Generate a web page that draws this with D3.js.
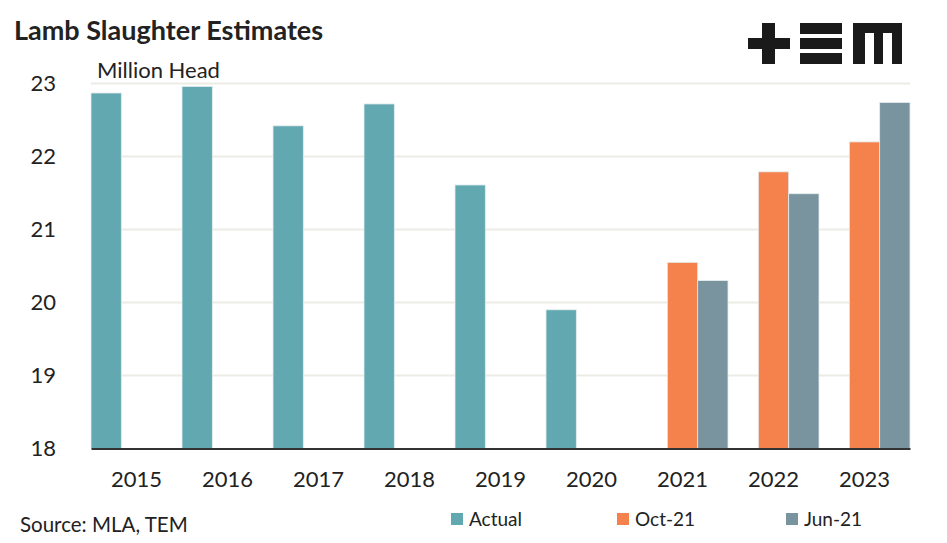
<!DOCTYPE html>
<html>
<head>
<meta charset="utf-8">
<script src="https://cdn.jsdelivr.net/npm/d3@7"></script>
<style>
  body { margin: 0; background: #fff; }
  text { font-family: Lato, "Noto Sans", sans-serif; fill: #222; }
</style>
</head>
<body>
<svg id="chart" width="947" height="543"></svg>
<script>
const years = ['2015', '2016', '2017', '2018', '2019', '2020', '2021', '2022', '2023'];
const seriesNames = ['Actual', 'Oct-21', 'Jun-21'];
const actual = [22.87, 22.96, 22.42, 22.72, 21.61, 19.9, null, null, null];
const oct21 = [null, null, null, null, null, null, 20.55, 21.79, 22.2];
const jun21 = [null, null, null, null, null, null, 20.3, 21.49, 22.74];
const yTicks = [18, 19, 20, 21, 22, 23];
const colors = ['#62a8b1', '#f5814d', '#7a949f'];

const svg = d3.select('#chart');
const margin = { left: 91, right: 37, top: 83.5, bottom: 94.5 };
const width = 947 - margin.left - margin.right;
const height = 543 - margin.top - margin.bottom;

const x = d3.scaleBand().domain(years).range([margin.left, margin.left + width]).padding(0);
const xs = d3.scaleBand().domain(seriesNames).range([0, x.bandwidth()]).padding(0);
const y = d3.scaleLinear().domain([18, 23]).range([margin.top + height, margin.top]);

// gridlines
svg.append('g')
    .selectAll('line')
    .data(yTicks.slice(1))
    .join('line')
    .attr('x1', margin.left).attr('x2', margin.left + width)
    .attr('y1', d => y(d)).attr('y2', d => y(d))
    .attr('stroke', '#ecece4').attr('stroke-width', 2);

// bars
const allSeries = [actual, oct21, jun21];
allSeries.forEach((vals, si) => {
    svg.append('g')
        .selectAll('rect')
        .data(years.map((yr, i) => ({ yr, v: vals[i] })).filter(d => d.v !== null))
        .join('rect')
        .attr('x', d => x(d.yr) + xs(seriesNames[si]))
        .attr('width', xs.bandwidth())
        .attr('y', d => y(d.v))
        .attr('height', d => y(18) - y(d.v))
        .attr('fill', colors[si])
        .attr('stroke', '#e4eef0').attr('stroke-width', 0.8);
});

// y axis labels
const yAxis = svg.append('g')
    .attr('transform', `translate(${margin.left - 35},0)`)
    .call(d3.axisLeft(y).tickValues(yTicks).tickFormat(d3.format('d')).tickSize(0).tickPadding(0));
yAxis.select('.domain').remove();
yAxis.selectAll('text').style('font-size', '22px').style('font-family', 'Lato, "Noto Sans", sans-serif').attr('fill', '#222');

// x axis
const xAxis = svg.append('g')
    .attr('transform', `translate(0,${y(18)})`)
    .call(d3.axisBottom(x).tickSize(0).tickPadding(23));
xAxis.select('.domain').attr('stroke', '#333').attr('stroke-width', 2);
xAxis.selectAll('text').style('font-size', '22px').style('font-family', 'Lato, "Noto Sans", sans-serif').attr('fill', '#222');

// titles
svg.append('text').attr('x', 14).attr('y', 40)
    .style('font-size', '27px').style('font-weight', 'bold')
    .text('Lamb Slaughter Estimates');
svg.append('text').attr('x', 97).attr('y', 78)
    .style('font-size', '22px')
    .text('Million Head');
svg.append('text').attr('x', 20).attr('y', 532)
    .style('font-size', '20.5px')
    .text('Source: MLA, TEM');

// legend
const legendX = [451, 617, 786];
seriesNames.forEach((name, i) => {
    const g = svg.append('g').attr('transform', `translate(${legendX[i]},513)`);
    g.append('rect').attr('width', 12).attr('height', 12).attr('fill', colors[i]);
    g.append('text').attr('x', 18).attr('y', 12.5).style('font-size', '19px').text(name);
});

// logo
const logo = svg.append('g').attr('fill', '#1a1a1a');
logo.append('rect').attr('x', 762).attr('y', 23).attr('width', 13).attr('height', 41);
logo.append('rect').attr('x', 748).attr('y', 38).attr('width', 42).attr('height', 11);
[23, 38, 53].forEach(yy => {
    logo.append('rect').attr('x', 800).attr('y', yy).attr('width', 42).attr('height', 11);
});
logo.append('path').attr('d', 'M853,23 H902 V64 H892 V33 H883 V64 H874 V33 H865 V64 H853 Z');
</script>
</body>
</html>
